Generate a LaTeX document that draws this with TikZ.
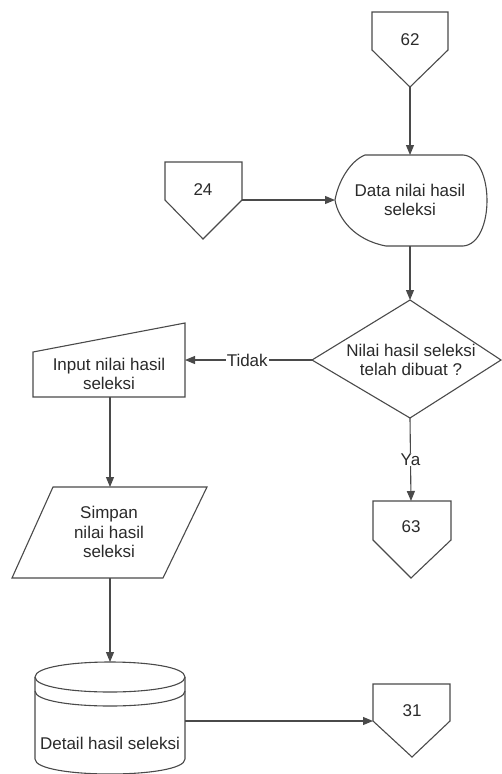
\documentclass[tikz,border=0pt]{standalone}
\usepackage{fontspec}
\setmainfont{Liberation Sans}
\usetikzlibrary{arrows.meta}
\definecolor{linegray}{HTML}{4A4A4A}
\definecolor{textgray}{HTML}{2A2A2A}
\begin{document}
\begin{tikzpicture}[x=1pt,y=-1pt,
  outline/.style={draw=linegray,line width=1.1pt,line join=miter,fill=white},
  flow/.style={draw=linegray,line width=1.1pt,-{Triangle[length=10pt,width=8pt]}},
  plain/.style={draw=linegray,line width=1.1pt},
  txt/.style={font=\fontsize{17}{19.5}\selectfont,text=textgray,align=center,inner sep=0pt},
  edgelabel/.style={txt,fill=white,inner sep=1pt}]
\useasboundingbox (0,0) rectangle (502,774);

% off-page connector 62
\draw[outline] (372,12) -- (448,12) -- (448,50) -- (410,87) -- (372,50) -- cycle;
\node[txt] (c62) at (410,40) {62};
\coordinate (c62-tip) at (410,87);

% off-page connector 24
\draw[outline] (165,162) -- (242,162) -- (242,200) -- (203,239) -- (165,200) -- cycle;
\node[txt] (c24) at (203,190) {24};
\coordinate (c24-side) at (242,200);

% display: data nilai hasil seleksi
\draw[outline] (365,155) -- (463,155)
  .. controls (495,157) and (495,244) .. (463,246) -- (386,246)
  .. controls (354,240) and (338,218) .. (335,200)
  .. controls (338,182) and (350,161) .. (365,155) -- cycle;
\node[txt] (data) at (410,200) {Data nilai hasil\\seleksi};
\coordinate (data-top) at (410,155);
\coordinate (data-left) at (335,200);
\coordinate (data-bottom) at (410,246);

% decision
\draw[outline] (410,300) -- (501,360) -- (410,418) -- (312,360) -- cycle;
\node[txt] (cek) at (411,360) {Nilai hasil seleksi\\telah dibuat ?};
\coordinate (cek-top) at (410,300);
\coordinate (cek-left) at (312,360);
\coordinate (cek-bottom) at (410,418);

% manual input
\draw[outline] (33,352) -- (185,323) -- (185,397) -- (33,397) -- cycle;
\node[txt] (input) at (109,374) {Input nilai hasil\\seleksi};
\coordinate (input-right) at (185,360);
\coordinate (input-bottom) at (110,397);

% input/output: simpan
\draw[outline] (53,487) -- (207,487) -- (163,578) -- (12,578) -- cycle;
\node[txt] (simpan) at (109,532) {Simpan\\nilai hasil\\seleksi};
\coordinate (simpan-top) at (110,487);
\coordinate (simpan-bottom) at (110,578);

% stored data: detail hasil seleksi
\draw[outline] (35,677) -- (35,759) .. controls (35,779) and (185,779) .. (185,759)
  -- (185,677) .. controls (185,657) and (35,657) .. (35,677) -- cycle;
\draw[plain] (35,677) .. controls (35,697) and (185,697) .. (185,677);
\draw[plain] (35,691) .. controls (35,711) and (185,711) .. (185,691);
\node[txt] (detail) at (110,743) {Detail hasil seleksi};
\coordinate (detail-top) at (110,662);
\coordinate (detail-right) at (185,721);

% off-page connector 63
\draw[outline] (373,501) -- (451,501) -- (451,540) -- (411,578) -- (373,540) -- cycle;
\node[txt] (c63) at (411,527) {63};
\coordinate (c63-top) at (411,501);

% off-page connector 31
\draw[outline] (373,684) -- (450,684) -- (450,721) -- (412,757) -- (373,721) -- cycle;
\node[txt] (c31) at (412,711) {31};
\coordinate (c31-side) at (373,721);

% connectors
\draw[flow] (c62-tip) -- (data-top);
\draw[flow] (c24-side) -- (data-left);
\draw[flow] (data-bottom) -- (cek-top);
\draw[flow] (cek-left) -- node[edgelabel,pos=0.51] (tidak) {Tidak} (input-right);
\draw[flow] (cek-bottom) -- node[edgelabel,pos=0.5] (ya) {Ya} (c63-top);
\draw[flow] (input-bottom) -- (simpan-top);
\draw[flow] (simpan-bottom) -- (detail-top);
\draw[flow] (detail-right) -- (c31-side);
\end{tikzpicture}
\end{document}
